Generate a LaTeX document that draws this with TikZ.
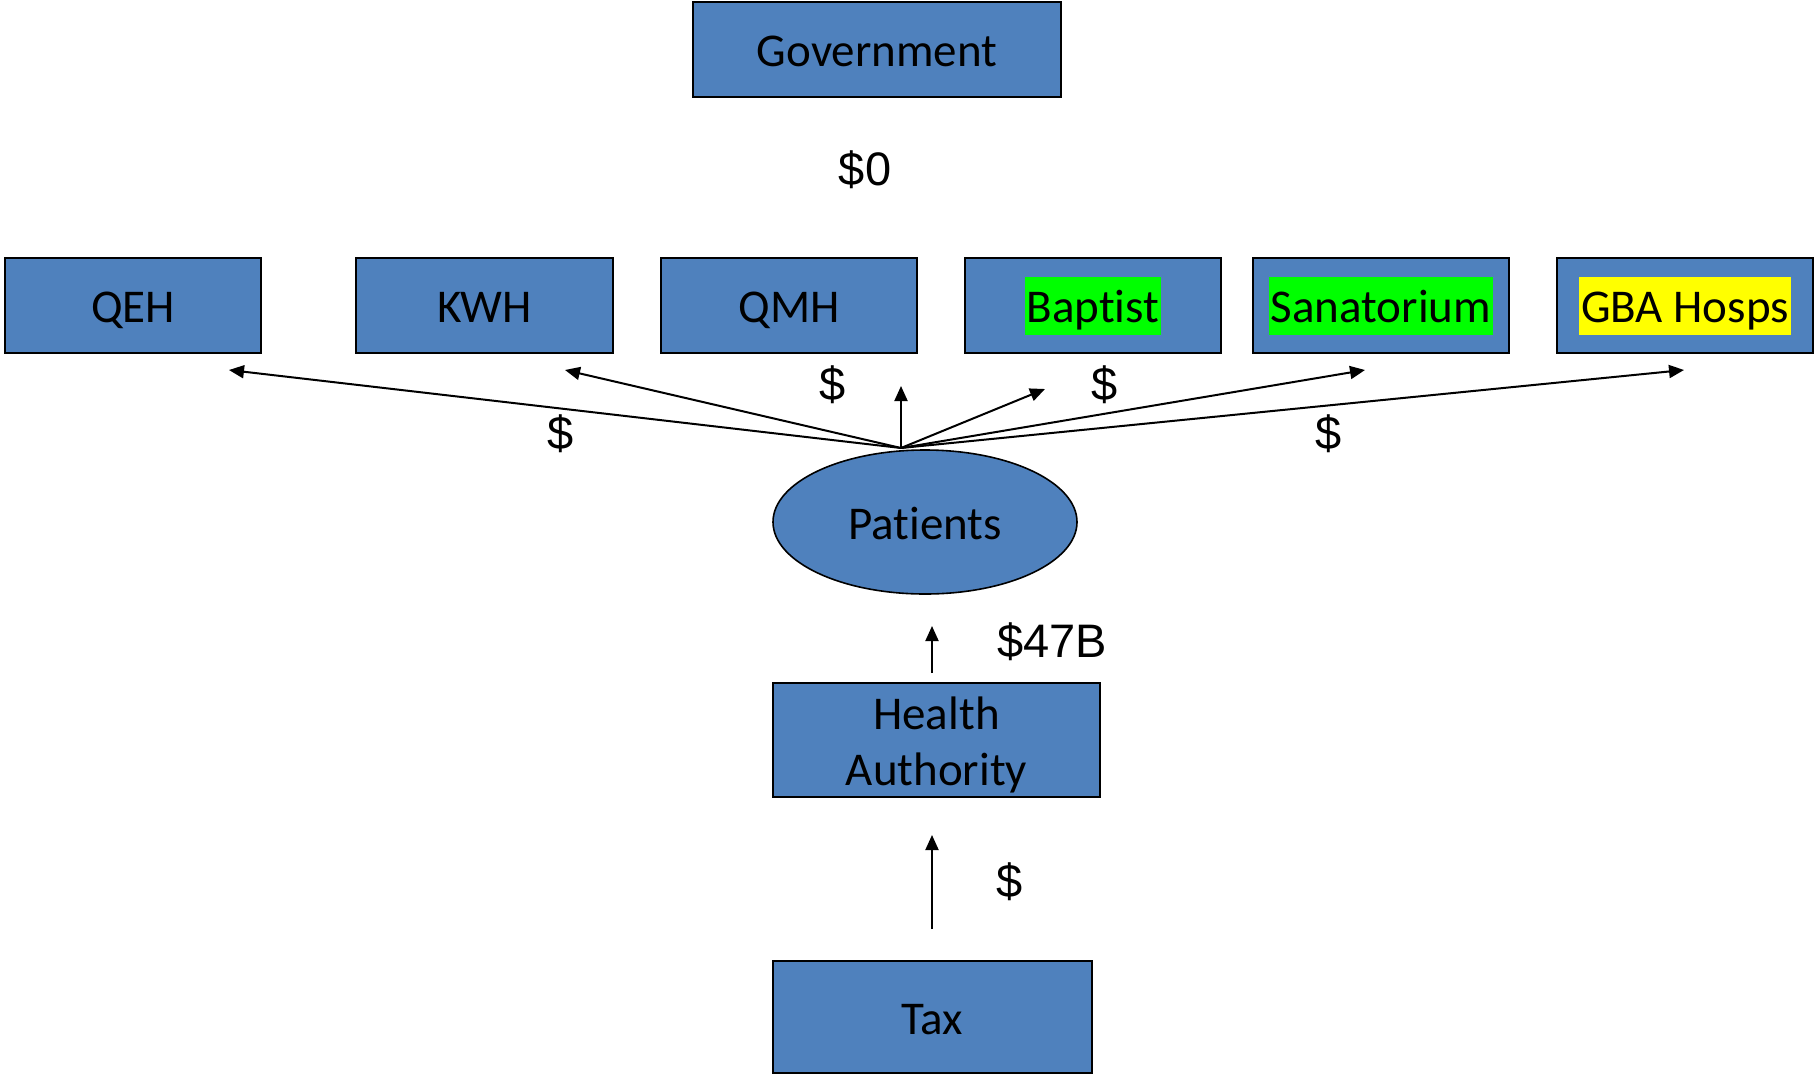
\documentclass[tikz,border=0pt]{standalone}
\usepackage{fontspec}
\setmainfont{Carlito}[Ligatures=NoCommon]
\newfontfamily\arialfont{Liberation Sans}
\usetikzlibrary{arrows.meta,shapes.geometric}
\definecolor{boxblue}{HTML}{4F81BD}
\definecolor{hlgreen}{HTML}{00FF00}
\definecolor{hlyellow}{HTML}{FFFF00}
\newcommand{\hlbox}[2]{{\setlength{\fboxsep}{0pt}\colorbox{#1}{\hspace{2pt}\rule[-12pt]{0pt}{58pt}#2\hspace{2pt}}}}
\tikzset{
  bx/.style={draw=black, line width=1.6pt, fill=boxblue, inner sep=0pt, font=\fontsize{47}{55.5}\selectfont, align=center},
  one/.style={text height=34pt, text depth=0pt},
  money/.style={font=\arialfont\fontsize{47}{56}\selectfont, inner sep=0pt},
  flow/.style={line width=2pt, -{Triangle[length=15pt,width=13pt]}}
}
\begin{document}
\begin{tikzpicture}[x=1pt,y=-1pt]
\useasboundingbox (0,0) rectangle (1814,1074);
% Government
\node[bx, one, minimum width=368pt, minimum height=95pt] (gov) at (877,49.5) {Government};
\node[money] (zero) at (865,170) {\$0};
% hospitals
\node[bx, one, minimum width=256pt, minimum height=95pt] (qeh) at (133,305.5) {QEH};
\node[bx, one, minimum width=257pt, minimum height=95pt] (kwh) at (484.5,305.5) {KWH};
\node[bx, one, minimum width=256pt, minimum height=95pt] (qmh) at (789,305.5) {QMH};
\node[bx, minimum width=256pt, minimum height=95pt] (bap) at (1093,305.5) {\hlbox{hlgreen}{Baptist}};
\node[bx, minimum width=256pt, minimum height=95pt] (san) at (1381,305.5) {\hlbox{hlgreen}{Sanatorium}};
\node[bx, minimum width=256pt, minimum height=95pt] (gba) at (1685,305.5) {\hlbox{hlyellow}{GBA Hosps}};
% patients
\node[ellipse, draw=black, line width=1.6pt, fill=boxblue, minimum width=304pt, minimum height=144pt, inner sep=0pt, font=\fontsize{47}{56}\selectfont, text height=34pt, text depth=0pt] (pat) at (925,522) {Patients};
% arrow end points
\coordinate (src) at (901,448);
\coordinate (eqeh) at (229,370);
\coordinate (ekwh) at (565,370);
\coordinate (eqmh) at (901,386);
\coordinate (ebap) at (1045,389);
\coordinate (esan) at (1365,370);
\coordinate (egba) at (1684,370);
\draw[flow] (src) -- (eqeh);
\draw[flow] (src) -- (ekwh);
\draw[flow] (src) -- (eqmh);
\draw[flow] (src) -- (ebap);
\draw[flow] (src) -- (esan);
\draw[flow] (src) -- (egba);
\node[money] (d1) at (561,434) {\$};
\node[money] (d2) at (833,385) {\$};
\node[money] (d3) at (1105,385) {\$};
\node[money] (d4) at (1329,434) {\$};
% health authority
\node[bx, minimum width=327pt, minimum height=114pt] (ha) at (936.5,740) {};
\node[font=\fontsize{47}{55.5}\selectfont, align=center, inner sep=0pt] (hatext) at (936.5,745) {Health\\Authority};
\coordinate (haTop) at (932,673);
\coordinate (patBot) at (932,626);
\draw[flow] (haTop) -- (patBot);
\node[money, anchor=west] (b47) at (997,642) {\$47B};
% tax
\node[bx, one, minimum width=319pt, minimum height=112pt] (tax) at (932.5,1017) {Tax};
\coordinate (taxTop) at (932,929);
\coordinate (haBot) at (932,835);
\draw[flow] (taxTop) -- (haBot);
\node[money] (d5) at (1010,882) {\$};
\end{tikzpicture}
\end{document}
